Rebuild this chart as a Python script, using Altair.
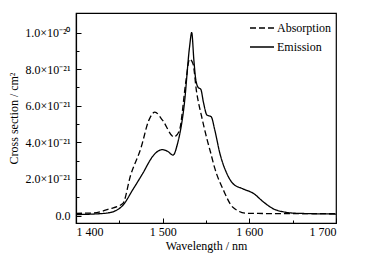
import altair as alt
import pandas as pd

abs_wl = [1400, 1420, 1438, 1454, 1463, 1475, 1484, 1491, 1500, 1513, 1519, 1527, 1531, 1535, 1539, 1545, 1551, 1555, 1560, 1570, 1581, 1597, 1650, 1700]
abs_val = [0.12, 0.14, 0.35, 0.65, 2.2, 3.7, 5.2, 5.65, 5.2, 4.3, 4.6, 7.4, 8.55, 8.3, 6.8, 5.4, 4.2, 3.5, 2.6, 1.4, 0.45, 0.12, 0.1, 0.1]

em_wl = [1400, 1420, 1438, 1446, 1454, 1465, 1477, 1488, 1494, 1500, 1506, 1512, 1517, 1525, 1531, 1533.5, 1536, 1538, 1541, 1544, 1547, 1551, 1556, 1560, 1566, 1574, 1581, 1593, 1605, 1616, 1631, 1655, 1700]
em_val = [0.05, 0.08, 0.15, 0.27, 0.55, 1.37, 2.3, 3.2, 3.5, 3.6, 3.5, 3.3, 3.9, 6.1, 9.2, 10.0, 8.5, 7.5, 7.0, 6.9, 6.2, 5.5, 5.4, 4.7, 3.4, 2.3, 1.75, 1.45, 1.2, 0.75, 0.3, 0.12, 0.08]

series = ["Absorption", "Emission"]
x_ticks = [1400, 1450, 1500, 1550, 1600, 1650, 1700]
y_ticks = [0, 1, 2, 3, 4, 5, 6, 7, 8, 9, 10]

df = pd.concat([
    pd.DataFrame({"wl": abs_wl, "v": abs_val, "s": series[0], "o": range(len(abs_wl))}),
    pd.DataFrame({"wl": em_wl, "v": em_val, "s": series[1], "o": range(len(em_wl))}),
])

FONT = "Liberation Serif"

chart = alt.Chart(df).mark_line(color="black", strokeWidth=1.3, interpolate="monotone").encode(
    x=alt.X("wl:Q", scale=alt.Scale(domain=[1400, 1700], nice=False, zero=False),
            axis=alt.Axis(values=x_ticks, title="Wavelength / nm", grid=False,
                          labelExpr="datum.value % 100 == 0 ? replace(format(datum.value, ','), ',', ' ') : ''",
                          tickSize={"condition": {"test": "datum.value % 100 != 0", "value": -3}, "value": -5},
                          labelPadding=8, titlePadding=3)),
    y=alt.Y("v:Q", scale=alt.Scale(domain=[-0.41, 11.07], nice=False, zero=False),
            axis=alt.Axis(values=y_ticks, title="Cross section / cm²", grid=False,
                          labelExpr="datum.value == 0 ? '0.0' : datum.value == 10 ? '1.0×10⁻²⁰' : datum.value % 2 == 0 ? format(datum.value, '.1f') + '×10⁻²¹' : ''",
                          tickSize={"condition": {"test": "datum.value % 2 != 0", "value": -3}, "value": -5},
                          labelPadding=11, titlePadding=4)),
    strokeDash=alt.StrokeDash("s:N", sort=series,
                              scale=alt.Scale(domain=series, range=[[6, 3], [1, 0]]),
                              legend=alt.Legend(title=None, orient="none", legendX=173, legendY=2,
                                                symbolType="stroke", symbolSize=576, symbolStrokeWidth=1.3,
                                                symbolStrokeColor="black", labelFontSize=12, labelFont=FONT,
                                                labelColor="black",
                                                rowPadding=-7, padding=0, labelOffset=2)),
    order="o:Q",
).properties(
    width=260, height=210,
    autosize=alt.AutoSizeParams(type="none"),
    padding={"left": 76, "top": 13, "right": 32, "bottom": 43},
).configure(background="white").configure_view(stroke="black", strokeWidth=1.2).configure_axis(
    domainColor="black", tickColor="black", labelColor="black", titleColor="black",
    labelFont=FONT, titleFont=FONT, labelFontSize=12, titleFontSize=12, titleFontWeight="normal",
    domainWidth=1.2, tickWidth=1,
)

chart.save("out.html", embed_options={"renderer": "svg", "actions": False})
